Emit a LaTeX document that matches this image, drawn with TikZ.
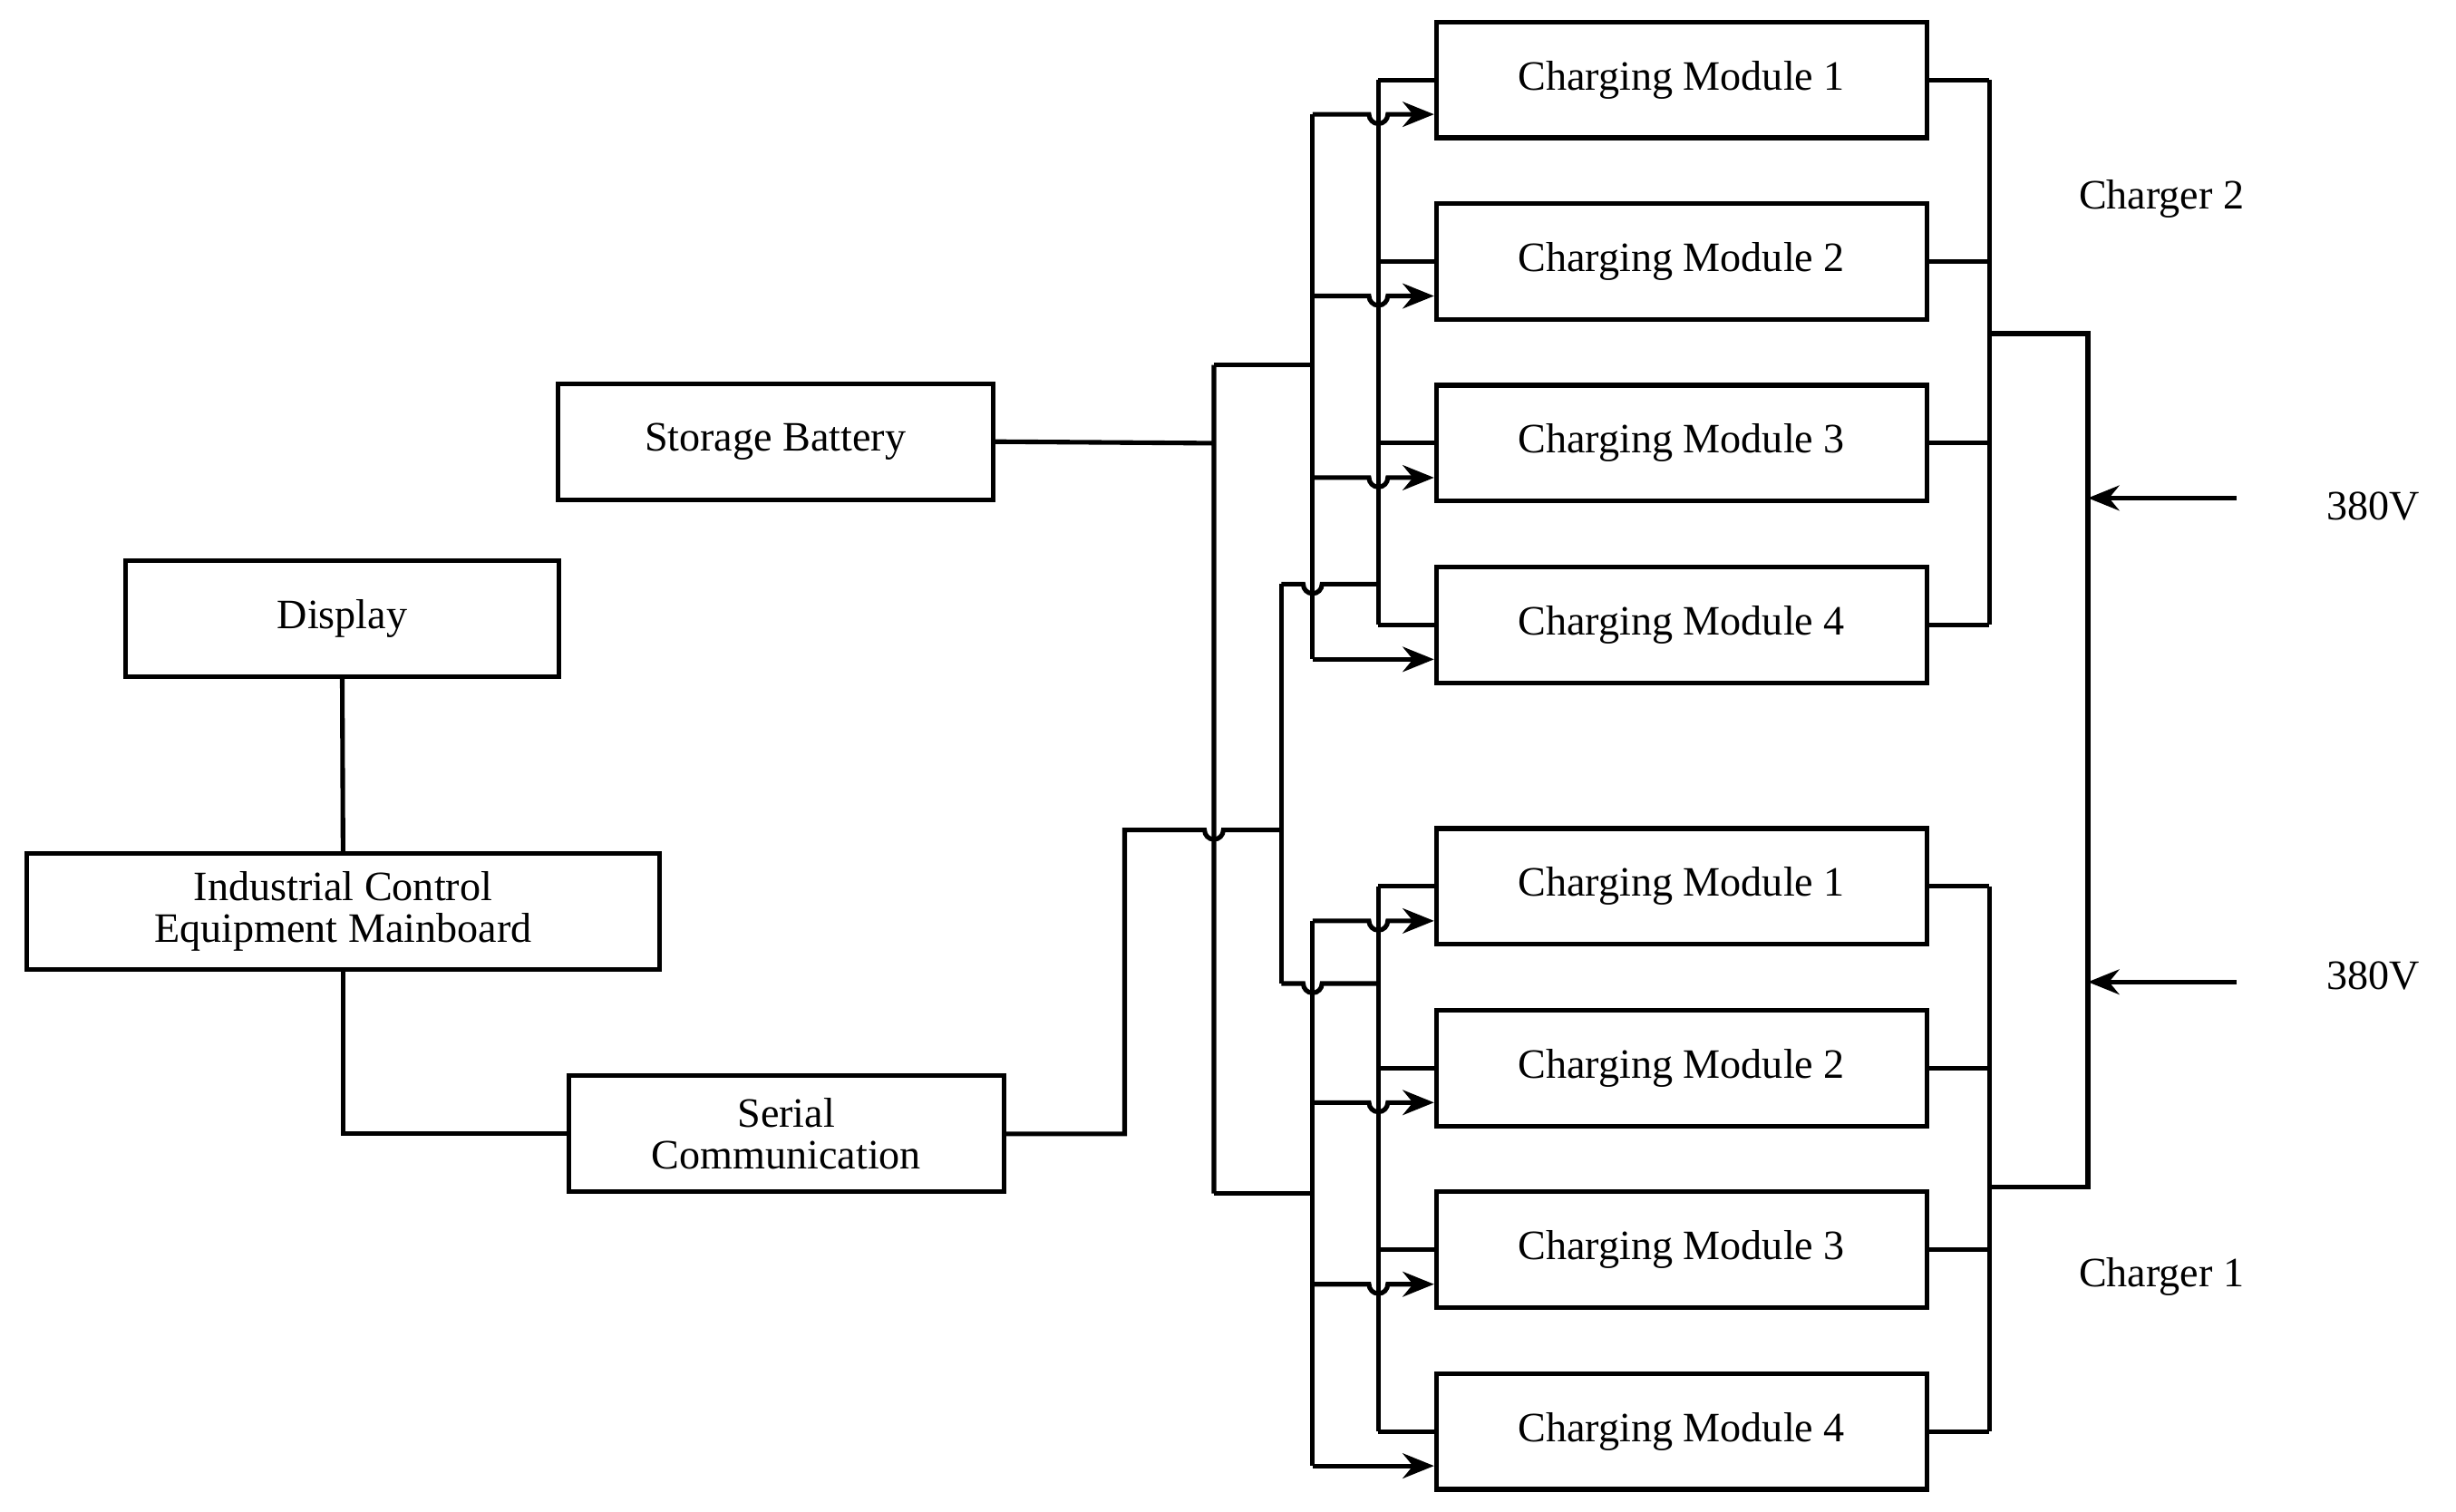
\documentclass[tikz,border=0pt]{standalone}
\usepackage{fontspec}
\setmainfont{Liberation Serif}
\usetikzlibrary{arrows.meta}
\begin{document}
\begin{tikzpicture}[x=0.05cm,y=-0.05cm,
  line width=4.2pt,
  box/.style={draw,line width=4.2pt,minimum height=3.7cm,inner sep=0pt,font=\fontsize{38}{44}\selectfont,align=center},
  chm/.style={box,minimum width=15.65cm},
  arr/.style={-{Stealth[length=1cm,width=0.8cm]}},
  lbl/.style={font=\fontsize{38}{44}\selectfont}]
\useasboundingbox (0,0) rectangle (1568,965);
% boxes
\foreach \i/\y in {1/51,2/167,3/283,4/399}{\node[chm] (u\i) at (1073.5,\y) {Charging Module \i};}
\foreach \i/\y in {1/566,2/682,3/798,4/914}{\node[chm] (l\i) at (1073.5,\y) {Charging Module \i};}
\node[box,minimum width=13.9cm] (sb) at (495,282) {Storage Battery};
\node[box,minimum width=13.85cm] (disp) at (218.5,395) {Display};
\node[box,minimum width=20.2cm] (mb) at (219,582) {Industrial Control\\[-6pt]Equipment Mainboard};
\node[box,minimum width=13.9cm] (ser) at (502,724) {Serial\\[-6pt]Communication};
\node[lbl] (c2) at (1380,127) {Charger 2};
\node[lbl] (c1) at (1380,815) {Charger 1};
\node[lbl] (v2) at (1515,323) {380V};
\node[lbl] (v1) at (1515,623) {380V};
\def\r{6}
% left
\draw (disp.south) -- (mb.north);
\draw (mb.south) |- (ser.west);
% storage
\coordinate (sv) at (775,283);
\draw (sb.east) -- (sv) (775,233) -- (775,762);
\draw (775,233) -- (838,233);
\draw (775,762) -- (838,762);
% serial
\draw (ser.east) -- (718,724) -- (718,530) -- (775-\r,530) arc[start angle=180,end angle=0,radius=\r] -- (818,530);
\draw (818,373) -- (818,628);
\draw (818,373) -- (838-\r,373) arc[start angle=180,end angle=0,radius=\r] -- (880,373);
\draw (818,628) -- (838-\r,628) arc[start angle=180,end angle=0,radius=\r] -- (880,628);
% upper buses
\draw (880,51) -- (880,399) (838,73) -- (838,421);
\foreach \i in {1,...,4}{\draw (880,0 |- u\i.west) -- (u\i.west);}
\foreach \i/\y in {1/73,2/189,3/305}{\draw[arr] (838,\y) -- (880-\r,\y) arc[start angle=180,end angle=0,radius=\r] -- (u\i.west |- 0,\y);}
\draw[arr] (838,421) -- (u4.west |- 0,421);
% lower buses
\draw (880,566) -- (880,914) (838,588) -- (838,936);
\foreach \i in {1,...,4}{\draw (880,0 |- l\i.west) -- (l\i.west);}
\foreach \i/\y in {1/588,2/704,3/820}{\draw[arr] (838,\y) -- (880-\r,\y) arc[start angle=180,end angle=0,radius=\r] -- (l\i.west |- 0,\y);}
\draw[arr] (838,936) -- (l4.west |- 0,936);
% right side
\foreach \i in {1,...,4}{\draw (u\i.east) -- (1270,0 |- u\i.east); \draw (l\i.east) -- (1270,0 |- l\i.east);}
\draw (1270,51) -- (1270,399) (1270,566) -- (1270,914);
\draw (1270,213) -- (1333,213) -- (1333,758) -- (1270,758);
\coordinate (p2) at (1428,318); \coordinate (p1) at (1428,627);
\draw[arr] (p2) -- (1333,318);
\draw[arr] (p1) -- (1333,627);
\end{tikzpicture}
\end{document}
